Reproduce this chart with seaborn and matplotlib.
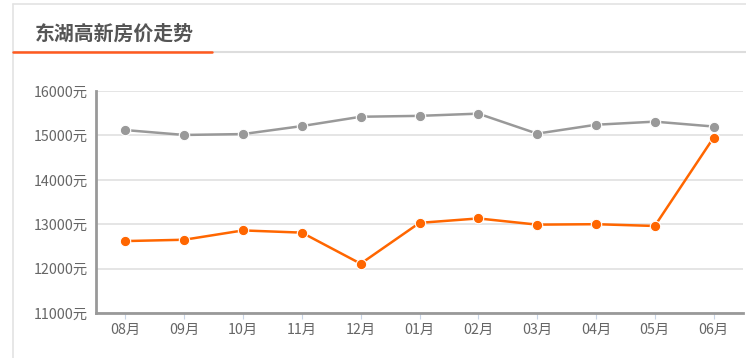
import matplotlib
matplotlib.use("Agg")
import matplotlib.pyplot as plt
from matplotlib.lines import Line2D
import pandas as pd
import seaborn as sns

# ── 数据 ──
months = ["08月", "09月", "10月", "11月", "12月", "01月", "02月", "03月", "04月", "05月", "06月"]
gray_prices = [15120, 15010, 15030, 15210, 15420, 15440, 15490, 15040, 15240, 15310, 15200]
orange_prices = [12620, 12650, 12860, 12810, 12110, 13030, 13130, 12990, 13000, 12960, 14950]
yticks = [11000, 12000, 13000, 14000, 15000, 16000]
title = "东湖高新房价走势"

df = pd.DataFrame({
    "month": months * 2,
    "price": gray_prices + orange_prices,
    "series": ["gray"] * len(months) + ["orange"] * len(months),
})

sns.set_theme(style="white")
plt.rcParams["font.family"] = ["Noto Sans CJK SC", "DejaVu Sans"]

W, H = 746, 358
fig = plt.figure(figsize=(W / 100, H / 100), dpi=100)

def px(x, y):
    return x / W, 1 - y / H

# 卡片边框与标题
fig.add_artist(Line2D([px(13, 0)[0], 1], [px(0, 4)[1]] * 2, color="#e3e3e3", lw=1.2))
fig.add_artist(Line2D([px(13, 0)[0]] * 2, [px(0, 4)[1], 0], color="#e3e3e3", lw=1.2))
fig.add_artist(Line2D([px(13, 0)[0], 1], [px(0, 52)[1]] * 2, color="#dddddd", lw=1.5))
fig.add_artist(Line2D([px(13, 0)[0], px(212, 0)[0]], [px(0, 52)[1]] * 2, color="#ff5a1f", lw=1.8))
fig.text(*px(35, 33), title, fontsize=14.3, fontweight="bold", color="#555555", va="center", ha="left")

# 图表区域
l, t = px(96, 91)
r, b = px(743, 313)
ax = fig.add_axes([l, b, r - l, t - b])

sns.lineplot(data=df, x="month", y="price", hue="series",
             palette={"gray": "#999999", "orange": "#ff6600"},
             marker="o", markersize=7.5, markeredgecolor="white", markeredgewidth=0.8,
             linewidth=1.8, legend=False, ax=ax, sort=False)

ax.set_xlim(-0.5, len(months) - 0.5)
ax.set_ylim(yticks[0], yticks[-1])
ax.set_yticks(yticks)
ax.set_yticklabels([f"{v}元" for v in yticks])
ax.set_xlabel("")
ax.set_ylabel("")
ax.grid(axis="y", color="#e0e0e0", lw=1.2)
ax.set_axisbelow(True)
for s in ["top", "right"]:
    ax.spines[s].set_visible(False)
for s in ["left", "bottom"]:
    ax.spines[s].set_color("#999999")
    ax.spines[s].set_linewidth(2)
ax.tick_params(axis="y", length=0, pad=6, labelsize=10.3, labelcolor="#666666")
ax.tick_params(axis="x", length=4, width=0.8, color="#c8d4e6", pad=3, labelsize=10.3,
               labelcolor="#666666", bottom=True)

fig.savefig("out.png", dpi=100)
